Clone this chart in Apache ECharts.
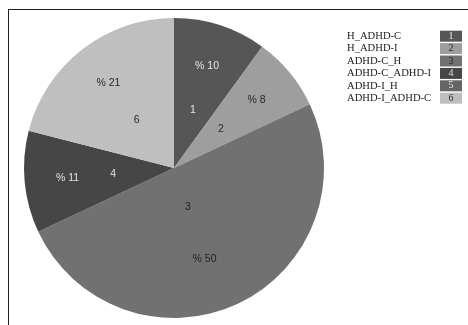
<!DOCTYPE html>
<html>
<head>
<meta charset="utf-8">
<script src="https://cdn.jsdelivr.net/npm/echarts@6/dist/echarts.min.js"></script>
<style>
  html, body { margin: 0; padding: 0; background: #fff; }
  #chart { width: 468px; height: 325px; }
</style>
</head>
<body>
<div id="chart"></div>
<script>
// data
const names = ['H_ADHD-C', 'H_ADHD-I', 'ADHD-C_H', 'ADHD-C_ADHD-I', 'ADHD-I_H', 'ADHD-I_ADHD-C']
const ids = ['1', '2', '3', '4', '5', '6']
const values = [10, 8, 50, 11, 0, 21]

// styles
const colors = ['#565656', '#9e9e9e', '#717171', '#464646', '#666666', '#bfbfbf']
const labelColors = ['#e6e6e6', '#2a2a2a', '#222', '#e0e0e0', '#eee', '#2a2a2a']
// the big slice has its labels a bit off its middle
const pctOffsets = [null, null, [-15, -6], null, null, null]
const idOffsets = [null, null, [-12, -16], null, null, null]

const chart = echarts.init(document.getElementById('chart'))

const center = [174, 168]

const baseData = names.map((n, i) => ({
  name: n,
  value: values[i],
  itemStyle: { color: colors[i] }
}))

const labelData = (fmt, offsets) => names.map((n, i) => ({
  name: n,
  value: values[i],
  label: Object.assign({
    show: values[i] > 0,
    color: labelColors[i],
    formatter: fmt(i)
  }, offsets[i] ? { offset: offsets[i] } : {})
}))

const rich = {
  n: { fontFamily: 'Liberation Serif', fontSize: 10.6, color: '#222', width: 93, height: 12.4, lineHeight: 12.4 }
}
colors.forEach((c, i) => {
  rich['b' + i] = {
    fontFamily: 'Liberation Serif', fontSize: 10, width: 22, height: 11, lineHeight: 11, align: 'center',
    backgroundColor: c, color: labelColors[i]
  }
})

const transparentPie = {
  type: 'pie',
  center,
  startAngle: 90,
  clockwise: true,
  silent: true,
  animation: false,
  itemStyle: { color: 'transparent', borderWidth: 0 },
  labelLine: { show: false },
  emphasis: { disabled: true },
  legendHoverLink: false
}

chart.setOption({
  animation: false,
  legend: {
    orient: 'vertical',
    left: 337,
    top: 25,
    itemWidth: 0,
    itemHeight: 0,
    itemGap: 0,
    icon: 'rect',
    selectedMode: false,
    data: names,
    formatter: (name) => {
      const i = names.indexOf(name)
      return `{n|${name}}{b${i}|${ids[i]}}`
    },
    textStyle: { rich }
  },
  graphic: [
    { type: 'line', shape: { x1: 8, y1: 9.5, x2: 468, y2: 9.5 }, style: { stroke: '#222', lineWidth: 1 } },
    { type: 'line', shape: { x1: 8.5, y1: 9, x2: 8.5, y2: 325 }, style: { stroke: '#222', lineWidth: 1 } }
  ],
  series: [
    {
      type: 'pie',
      center,
      radius: 150,
      startAngle: 90,
      clockwise: true,
      label: { show: false },
      labelLine: { show: false },
      itemStyle: { borderWidth: 0 },
      emphasis: { disabled: true },
      data: baseData
    },
    Object.assign({}, transparentPie, {
      radius: [58, 150],
      label: { position: 'inside', fontFamily: 'Liberation Sans', fontSize: 10.5 },
      data: labelData((i) => '% ' + values[i], pctOffsets)
    }),
    Object.assign({}, transparentPie, {
      radius: [0, 116],
      label: { position: 'inside', fontFamily: 'Liberation Sans', fontSize: 10.5 },
      data: labelData((i) => ids[i], idOffsets)
    })
  ]
})
</script>
</body>
</html>
